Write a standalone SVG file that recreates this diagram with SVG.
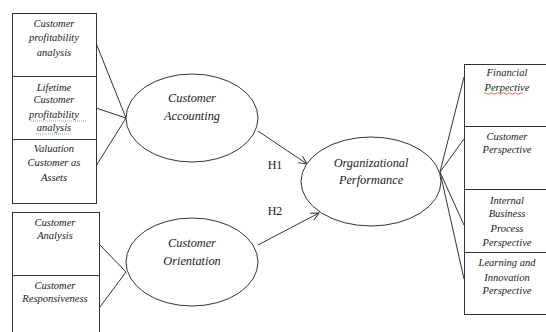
<svg xmlns="http://www.w3.org/2000/svg" width="546" height="332" viewBox="0 0 546 332">
  <style>
    .box { fill: #fff; stroke: #333; stroke-width: 1; }
    .ell { fill: #fff; stroke: #333; stroke-width: 1; }
    .ln { stroke: #333; stroke-width: 1; fill: none; }
    text { font-family: "Liberation Serif", "DejaVu Serif", serif; fill: #1a1a1a; text-anchor: middle; }
    .bt { font-style: italic; font-size: 10.5px; }
    .et { font-style: italic; font-size: 12.3px; }
    .ht { font-size: 12px; }
    .sq-g { stroke: #4caf50; stroke-width: 0.8; fill: none; stroke-dasharray: 1 1; }
    .sq-r { stroke: #e53935; stroke-width: 0.8; fill: none; }
  </style>
  <defs>
    <marker id="arrow" markerWidth="10" markerHeight="10" refX="9" refY="5" orient="auto" markerUnits="userSpaceOnUse">
      <path d="M1,1 L9,5 L1,9" fill="none" stroke="#333" stroke-width="1"/>
    </marker>
  </defs>

  <rect width="546" height="332" fill="#fff"/>

  <!-- connectors -->
  <g id="connectors">
    <line class="ln" x1="96" y1="43" x2="126" y2="118"/>
    <line class="ln" x1="96" y1="108" x2="126" y2="118"/>
    <line class="ln" x1="96" y1="166" x2="126" y2="118"/>
    <line class="ln" x1="100" y1="245" x2="126" y2="272"/>
    <line class="ln" x1="100" y1="307" x2="126" y2="272"/>
    <line class="ln" x1="258" y1="131" x2="307" y2="164" marker-end="url(#arrow)"/>
    <line class="ln" x1="258" y1="245" x2="319" y2="213" marker-end="url(#arrow)"/>
    <line class="ln" x1="440" y1="172" x2="464" y2="77"/>
    <line class="ln" x1="440" y1="172" x2="464" y2="139"/>
    <line class="ln" x1="440" y1="172" x2="464" y2="225"/>
    <line class="ln" x1="440" y1="172" x2="464" y2="279"/>
    <text class="ht" x="275" y="169">H1</text>
    <text class="ht" x="275" y="215">H2</text>
  </g>

  <!-- customer accounting indicators -->
  <g id="accounting-indicators">
    <rect class="box" x="12.5" y="13.5" width="84" height="190"/>
    <line class="ln" x1="12.5" y1="76.5" x2="96.5" y2="76.5"/>
    <line class="ln" x1="12.5" y1="139.5" x2="96.5" y2="139.5"/>
    <text class="bt" x="54" y="27">Customer</text>
    <text class="bt" x="54" y="41">profitability</text>
    <text class="bt" x="54" y="56">analysis</text>
    <text class="bt" x="54" y="91">Lifetime</text>
    <text class="bt" x="54" y="103">Customer</text>
    <text class="bt" x="54" y="118">profitability</text>
    <text class="bt" x="54" y="131">analysis</text>
    <path class="sq-g" d="M29,121 L87,121"/>
    <path class="sq-g" d="M36,134 L72,134"/>
    <text class="bt" x="54" y="152">Valuation</text>
    <text class="bt" x="54" y="166">Customer as</text>
    <text class="bt" x="54" y="181">Assets</text>
  </g>

  <!-- customer orientation indicators -->
  <g id="orientation-indicators">
    <rect class="box" x="12.5" y="212.5" width="87" height="125"/>
    <line class="ln" x1="12.5" y1="275.5" x2="99.5" y2="275.5"/>
    <text class="bt" x="55" y="226">Customer</text>
    <text class="bt" x="55" y="239">Analysis</text>
    <text class="bt" x="55" y="289">Customer</text>
    <text class="bt" x="55" y="302">Responsiveness</text>
  </g>

  <!-- latent constructs -->
  <g id="customer-accounting">
    <ellipse class="ell" cx="192" cy="118" rx="66" ry="44"/>
    <text class="et" x="192" y="102">Customer</text>
    <text class="et" x="192" y="120">Accounting</text>
  </g>
  <g id="customer-orientation">
    <ellipse class="ell" cx="192" cy="262" rx="66" ry="44"/>
    <text class="et" x="192" y="247">Customer</text>
    <text class="et" x="192" y="265">Orientation</text>
  </g>
  <g id="organizational-performance">
    <ellipse class="ell" cx="371" cy="181.5" rx="70" ry="44.5"/>
    <text class="et" x="371" y="167">Organizational</text>
    <text class="et" x="371" y="184">Performance</text>
  </g>

  <!-- balanced scorecard perspectives -->
  <g id="perspectives">
    <rect class="box" x="464.5" y="64.5" width="90" height="250"/>
    <line class="ln" x1="464.5" y1="126.5" x2="546" y2="126.5"/>
    <line class="ln" x1="464.5" y1="189.5" x2="546" y2="189.5"/>
    <line class="ln" x1="464.5" y1="252.5" x2="546" y2="252.5"/>
    <text class="bt" x="507" y="76">Financial</text>
    <text class="bt" x="507" y="91">Perpective</text>
    <path class="sq-r" d="M484,93.5 q1.5,-1.5 3,0 t3,0 t3,0 t3,0 t3,0 t3,0 t3,0 t3,0 t3,0 t3,0 t3,0 t3,0 t3,0"/>
    <text class="bt" x="507" y="140">Customer</text>
    <text class="bt" x="507" y="153">Perspective</text>
    <text class="bt" x="507" y="204">Internal</text>
    <text class="bt" x="507" y="217">Business</text>
    <text class="bt" x="507" y="232">Process</text>
    <text class="bt" x="507" y="246">Perspective</text>
    <text class="bt" x="507" y="266">Learning and</text>
    <text class="bt" x="507" y="281">Innovation</text>
    <text class="bt" x="507" y="294">Perspective</text>
  </g>
</svg>
